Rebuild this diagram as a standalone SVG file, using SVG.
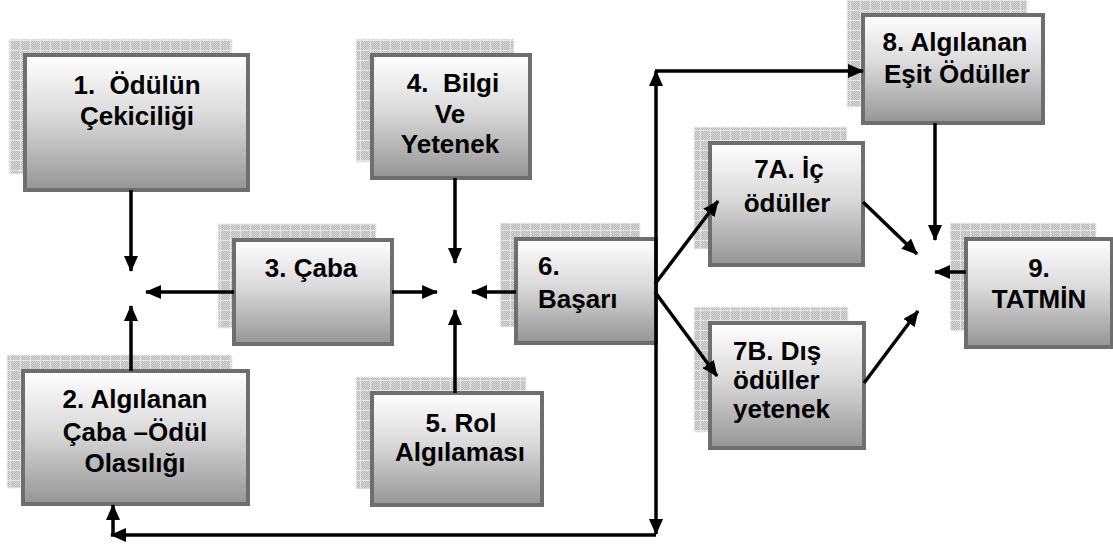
<svg xmlns="http://www.w3.org/2000/svg" width="1113" height="546" viewBox="0 0 1113 546">
<defs>
<pattern id="dither" width="2" height="2" patternUnits="userSpaceOnUse">
<rect width="2" height="2" fill="#bababa"/>
<rect width="1" height="1" fill="#d6d6d6"/>
<rect x="1" y="1" width="1" height="1" fill="#d6d6d6"/>
</pattern>
<pattern id="grid" width="10" height="10" patternUnits="userSpaceOnUse">
<rect width="10" height="10" fill="url(#dither)"/>
<rect width="10" height="1" fill="#e3e3e3"/>
<rect width="1" height="10" fill="#e3e3e3"/>
</pattern>
<linearGradient id="boxg" x1="0" y1="0" x2="0" y2="1">
<stop offset="0" stop-color="#ffffff"/>
<stop offset="0.45" stop-color="#dadada"/>
<stop offset="1" stop-color="#959595"/>
</linearGradient>
<marker id="ah" viewBox="0 0 16 14" refX="15" refY="7" markerWidth="16" markerHeight="14" markerUnits="userSpaceOnUse" orient="auto-start-reverse">
<path d="M0,0 L16,7 L0,14 z" fill="#000"/>
</marker>
</defs>
<style>
.sh{fill:url(#grid);stroke:#f2f2f2;stroke-width:1}
.bx{fill:url(#boxg);stroke:#6e6e6e;stroke-width:4}
.t{font-family:"Liberation Sans",Arial,sans-serif;font-weight:bold;font-size:26px;fill:#000;white-space:pre}
.c{text-anchor:middle}
.ln{fill:none;stroke:#000;stroke-width:3.5}
.ar{marker-end:url(#ah)}
</style>
<g id="n1">
<rect class="sh" x="9" y="39" width="223" height="135"/>
<rect class="bx" x="25" y="55" width="223" height="135"/>
<text class="t c" x="137" y="94" xml:space="preserve">1.  Ödülün</text>
<text class="t c" x="137" y="125">Çekiciliği</text>
</g>
<g id="n2">
<rect class="sh" x="7" y="355" width="225" height="133"/>
<rect class="bx" x="23" y="371" width="225" height="133"/>
<text class="t c" x="135" y="408">2. Algılanan</text>
<text class="t c" x="135" y="441">Çaba –Ödül</text>
<text class="t c" x="135" y="472">Olasılığı</text>
</g>
<g id="n3">
<rect class="sh" x="218" y="224" width="158" height="104"/>
<rect class="bx" x="234" y="240" width="158" height="104"/>
<text class="t c" x="311" y="277">3. Çaba</text>
</g>
<g id="n4">
<rect class="sh" x="356" y="39" width="158" height="123"/>
<rect class="bx" x="372" y="55" width="158" height="123"/>
<text class="t c" x="453" y="92" xml:space="preserve">4.  Bilgi</text>
<text class="t c" x="450" y="123">Ve</text>
<text class="t c" x="450" y="153">Yetenek</text>
</g>
<g id="n5">
<rect class="sh" x="356" y="377" width="170" height="112"/>
<rect class="bx" x="372" y="393" width="170" height="112"/>
<text class="t c" x="461" y="432">5. Rol</text>
<text class="t c" x="460" y="461">Algılaması</text>
</g>
<g id="n6">
<rect class="sh" x="500" y="223" width="140" height="104"/>
<rect class="bx" x="516" y="239" width="140" height="104"/>
<text class="t" x="538" y="275">6.</text>
<text class="t" x="538" y="308">Başarı</text>
</g>
<g id="n7a">
<rect class="sh" x="694" y="127" width="153" height="122"/>
<rect class="bx" x="710" y="143" width="153" height="122"/>
<text class="t c" x="789" y="178">7A. İç</text>
<text class="t c" x="787" y="212">ödüller</text>
</g>
<g id="n7b">
<rect class="sh" x="694" y="307" width="154" height="125"/>
<rect class="bx" x="710" y="323" width="154" height="125"/>
<text class="t" x="733" y="360">7B. Dış</text>
<text class="t" x="733" y="389">ödüller</text>
<text class="t" x="733" y="418">yetenek</text>
</g>
<g id="n8">
<rect class="sh" x="847" y="-1" width="180" height="108"/>
<rect class="bx" x="863" y="15" width="180" height="108"/>
<text class="t c" x="955" y="51">8. Algılanan</text>
<text class="t c" x="957" y="83">Eşit Ödüller</text>
</g>
<g id="n9">
<rect class="sh" x="950" y="223" width="146" height="108"/>
<rect class="bx" x="966" y="239" width="146" height="108"/>
<text class="t c" x="1039" y="277">9.</text>
<text class="t c" x="1039" y="308">TATMİN</text>
</g>
<g id="connectors">
<path class="ln ar" d="M131,190 V271"/>
<path class="ln ar" d="M131,371 V306"/>
<path class="ln ar" d="M234,292 H146"/>
<path class="ln ar" d="M392,292 H437"/>
<path class="ln ar" d="M455,178 V263"/>
<path class="ln ar" d="M455,393 V310"/>
<path class="ln ar" d="M516,292 H472"/>
<path class="ln ar" d="M655,284 L718,201"/>
<path class="ln ar" d="M655,292 L717,376"/>
<path class="ln ar" d="M863,202 L917,254"/>
<path class="ln ar" d="M864,383 L918,311"/>
<path class="ln ar" d="M935,123 V240"/>
<path class="ln ar" d="M966,272 H935"/>
<path class="ln ar" d="M656,71 V534" marker-start="url(#ah)"/>
<path class="ln ar" d="M655,71 H863"/>
<path class="ln ar" d="M656,535 H111"/>
<path class="ln ar" d="M113,535 V505"/>
</g>
</svg>
